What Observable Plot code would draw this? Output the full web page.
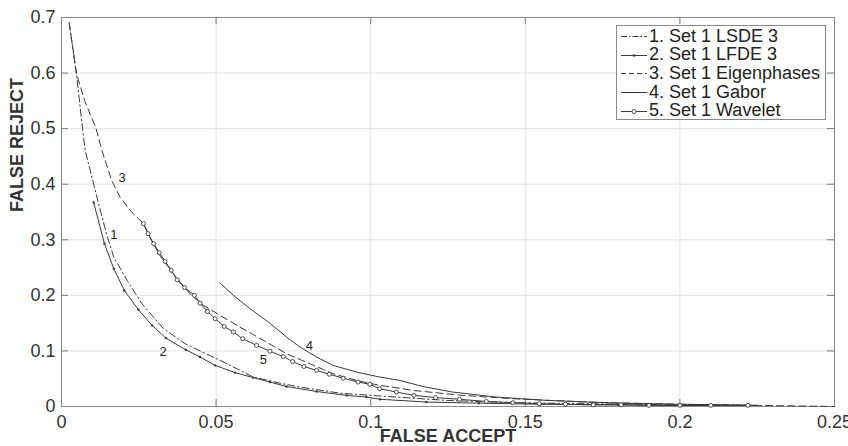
<!DOCTYPE html>
<html>
<head>
<meta charset="utf-8">
<script src="https://cdn.jsdelivr.net/npm/d3@7"></script>
<script src="https://cdn.jsdelivr.net/npm/@observablehq/plot@0.6"></script>
<style>
  html, body { margin: 0; padding: 0; background: #fff; }
  #wrap { position: relative; width: 848px; height: 446px; font-family: "Liberation Sans", Arial, sans-serif; }
  #legend { position: absolute; left: 616px; top: 25px; width: 210px; height: 95px; box-sizing: border-box;
            border: 1px solid #8a8a8a; background: #fff; padding: 1px 0 0 3px; }
  .row { display: flex; align-items: center; height: 18.6px; font-size: 18px; color: #222; white-space: nowrap; }
  .row svg { flex: none; margin-right: 1px; }
</style>
</head>
<body>
<div id="wrap"></div>
<script>
// ---- data ----
const seriesNames = ["1. Set 1 LSDE 3", "2. Set 1 LFDE 3", "3. Set 1 Eigenphases", "4. Set 1 Gabor", "5. Set 1 Wavelet"];

const lsdeX = [0.0025, 0.0048, 0.0068, 0.0077, 0.0104, 0.0124, 0.0147, 0.0169, 0.0212, 0.0260, 0.0330, 0.0400, 0.0448, 0.0513, 0.062, 0.0706, 0.0771, 0.090, 0.1029, 0.1245, 0.145, 0.17, 0.2, 0.225];
const lsdeY = [0.69, 0.60, 0.50, 0.46, 0.40, 0.356, 0.308, 0.269, 0.227, 0.185, 0.140, 0.113, 0.100, 0.083, 0.053, 0.042, 0.035, 0.024, 0.019, 0.011, 0.007, 0.005, 0.003, 0.002];

const lfdeX = [0.0104, 0.0139, 0.0169, 0.0203, 0.0249, 0.0293, 0.0338, 0.0402, 0.0448, 0.0497, 0.0561, 0.062, 0.0674, 0.0728, 0.0825, 0.0922, 0.0986, 0.103, 0.118, 0.135, 0.155, 0.18, 0.2, 0.222];
const lfdeY = [0.367, 0.293, 0.248, 0.209, 0.174, 0.146, 0.123, 0.102, 0.089, 0.074, 0.061, 0.052, 0.044, 0.036, 0.027, 0.020, 0.017, 0.013, 0.008, 0.006, 0.004, 0.003, 0.002, 0.002];

const eigenX = [0.0025, 0.0048, 0.0075, 0.0112, 0.0131, 0.0163, 0.019, 0.0228, 0.0266, 0.0285, 0.032, 0.037, 0.042, 0.0459, 0.0513, 0.0577, 0.0653, 0.0728, 0.0803, 0.0878, 0.0954, 0.1029, 0.1094, 0.1135, 0.1297, 0.146, 0.17, 0.2, 0.225, 0.25];
const eigenY = [0.69, 0.60, 0.55, 0.50, 0.46, 0.406, 0.376, 0.349, 0.329, 0.305, 0.27, 0.233, 0.200, 0.182, 0.164, 0.143, 0.119, 0.095, 0.077, 0.059, 0.047, 0.038, 0.033, 0.029, 0.020, 0.014, 0.008, 0.004, 0.002, 0.0];

const gaborX = [0.0513, 0.0556, 0.0610, 0.0669, 0.0728, 0.0771, 0.0825, 0.0878, 0.0954, 0.1029, 0.1094, 0.1168, 0.1265, 0.1406, 0.1568, 0.18, 0.2, 0.225];
const gaborY = [0.222, 0.200, 0.176, 0.152, 0.125, 0.107, 0.089, 0.074, 0.062, 0.053, 0.047, 0.036, 0.026, 0.017, 0.011, 0.006, 0.004, 0.002];

const waveX = [0.0265, 0.028, 0.0298, 0.0316, 0.0335, 0.0355, 0.0374, 0.0398, 0.043, 0.0448, 0.0472, 0.0497, 0.0526, 0.0556, 0.0586, 0.0631, 0.0674, 0.0717, 0.0747, 0.0784, 0.0825, 0.0866, 0.0911, 0.0959, 0.0997, 0.1029, 0.1083, 0.114, 0.121, 0.1287, 0.1374, 0.146, 0.1545, 0.163, 0.172, 0.181, 0.19, 0.2, 0.21, 0.222];
const waveY = [0.329, 0.311, 0.293, 0.277, 0.261, 0.245, 0.228, 0.214, 0.2, 0.186, 0.171, 0.158, 0.144, 0.134, 0.122, 0.11, 0.0995, 0.09, 0.081, 0.072, 0.065, 0.058, 0.051, 0.044, 0.04, 0.032, 0.026, 0.02, 0.016, 0.013, 0.009, 0.007, 0.005, 0.004, 0.003, 0.003, 0.002, 0.002, 0.002, 0.002];

const curveLabels = ["1", "2", "3", "4", "5"];
const curveLabelX = [0.0169, 0.0329, 0.0196, 0.0802, 0.0653];
const curveLabelY = [0.309, 0.099, 0.411, 0.1085, 0.084];

const xTicks = [0, 0.05, 0.1, 0.15, 0.2, 0.25];
const yTicks = [0, 0.1, 0.2, 0.3, 0.4, 0.5, 0.6, 0.7];
const xTitle = "FALSE ACCEPT";
const yTitle = "FALSE REJECT";

// ---- build ----
const pts = (xs, ys) => xs.map((x, i) => ({x, y: ys[i]}));
const lsde = pts(lsdeX, lsdeY), lfde = pts(lfdeX, lfdeY), eigen = pts(eigenX, eigenY),
      gabor = pts(gaborX, gaborY), wave = pts(waveX, waveY);
const labels = curveLabels.map((t, i) => ({t, x: curveLabelX[i], y: curveLabelY[i]}));

const ink = "#3a3a3a";
const fmt = d => String(d);
const W = 848, H = 446, mL = 61, mR = 14, mT = 17, mB = 40;
const fw = W - mL - mR, fh = H - mT - mB, tl = 7;

const chart = Plot.plot({
  width: W, height: H,
  marginLeft: mL, marginRight: mR, marginTop: mT, marginBottom: mB,
  style: {fontFamily: "'Liberation Sans', Arial, sans-serif", fontSize: "18px", color: "#333", background: "#fff"},
  x: {domain: [0, 0.25]},
  y: {domain: [0, 0.7]},
  marks: [
    Plot.gridX(xTicks, {stroke: "#e3e3e3", strokeOpacity: 1}),
    Plot.gridY(yTicks, {stroke: "#e3e3e3", strokeOpacity: 1}),
    Plot.axisX(xTicks, {tickSize: 0, tickPadding: 9, tickFormat: fmt, label: null, fontSize: 18, fill: "#333"}),
    Plot.axisY(yTicks, {tickSize: 0, tickPadding: 6, tickFormat: fmt, label: null, fontSize: 18, fill: "#333"}),
    Plot.tickX(xTicks, {x: d => d, insetTop: fh - tl, stroke: "#777"}),
    Plot.tickX(xTicks, {x: d => d, insetBottom: fh - tl, stroke: "#777"}),
    Plot.tickY(yTicks, {y: d => d, insetRight: fw - tl, stroke: "#777"}),
    Plot.tickY(yTicks, {y: d => d, insetLeft: fw - tl, stroke: "#777"}),
    Plot.frame({stroke: "#8a8a8a"}),
    Plot.line(lsde, {x: "x", y: "y", stroke: ink, strokeWidth: 1, strokeDasharray: "7,3,1.5,3"}),
    Plot.line(lfde, {x: "x", y: "y", stroke: ink, strokeWidth: 1}),
    Plot.dot(lfde, {x: "x", y: "y", r: 1.2, fill: ink, stroke: "none"}),
    Plot.line(eigen, {x: "x", y: "y", stroke: ink, strokeWidth: 1, strokeDasharray: "7,4"}),
    Plot.line(gabor, {x: "x", y: "y", stroke: ink, strokeWidth: 1}),
    Plot.line(wave, {x: "x", y: "y", stroke: ink, strokeWidth: 1}),
    Plot.dot(wave, {x: "x", y: "y", r: 2, fill: "#fff", stroke: ink, strokeWidth: 0.9}),
    Plot.text(labels, {x: "x", y: "y", text: "t", fontSize: 13, fill: "#222"}),
    Plot.text([xTitle], {frameAnchor: "bottom", dy: 35, fontSize: 18, fontWeight: "bold", fill: "#333"}),
    Plot.text([yTitle], {frameAnchor: "left", dx: -44, rotate: -90, fontSize: 18, fontWeight: "bold", fill: "#333"})
  ]
});

const wrap = document.getElementById("wrap");
wrap.appendChild(chart);

// legend (inside plot area, top-right)
const dashes = ["6,2,1.5,2", null, "5,3", null, null];
const markers = [null, "dot", null, null, "circle"];
const leg = document.createElement("div");
leg.id = "legend";
seriesNames.forEach((name, i) => {
  const row = document.createElement("div");
  row.className = "row";
  const s = d3.create("svg").attr("width", 28).attr("height", 12);
  s.append("line").attr("x1", 1).attr("x2", 27).attr("y1", 6.5).attr("y2", 6.5)
    .attr("stroke", ink).attr("stroke-width", 1).attr("stroke-dasharray", dashes[i]);
  if (markers[i] === "dot") s.append("circle").attr("cx", 14).attr("cy", 6.5).attr("r", 1.3).attr("fill", ink);
  if (markers[i] === "circle") s.append("circle").attr("cx", 14).attr("cy", 6.5).attr("r", 2).attr("fill", "#fff").attr("stroke", ink).attr("stroke-width", 0.9);
  row.appendChild(s.node());
  const span = document.createElement("span");
  span.textContent = name;
  row.appendChild(span);
  leg.appendChild(row);
});
wrap.appendChild(leg);
</script>
</body>
</html>
